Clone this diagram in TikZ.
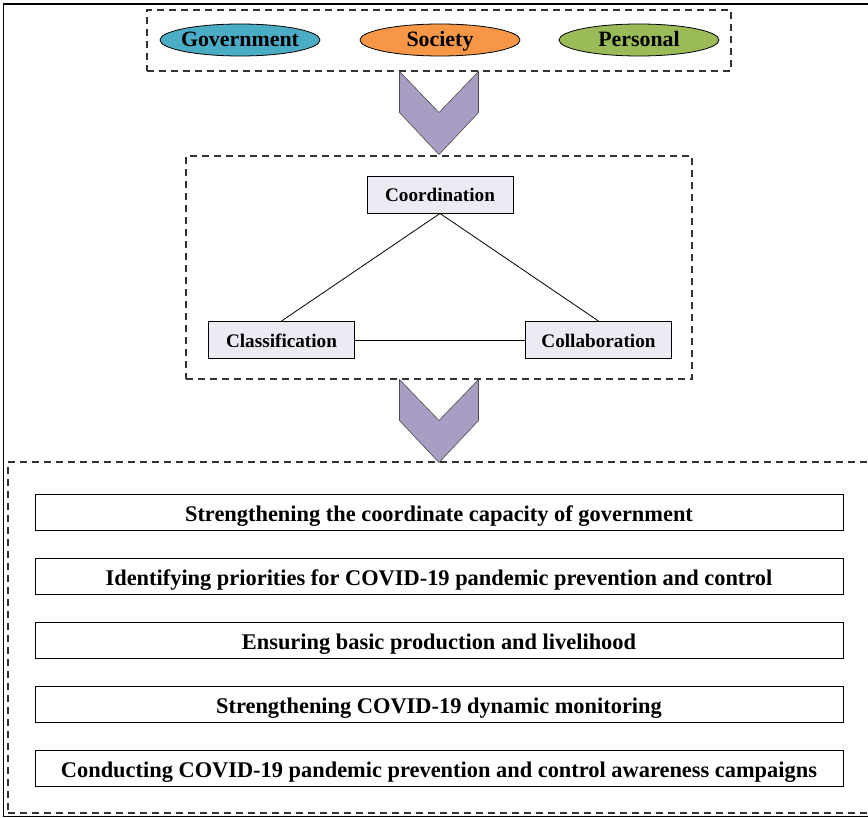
\documentclass[tikz,border=0pt]{standalone}
\usepackage{fontspec}
\setmainfont{Liberation Serif}
\usetikzlibrary{shapes.geometric}
\definecolor{govblue}{RGB}{75,172,198}
\definecolor{socorange}{RGB}{247,150,70}
\definecolor{pergreen}{RGB}{155,187,89}
\definecolor{chevpurple}{RGB}{169,157,196}
\definecolor{boxlilac}{RGB}{238,234,243}
\tikzset{
    dashbox/.style={draw=black!80,line width=1.1pt,dash pattern=on 7pt off 5pt,rectangle,inner sep=0pt},
    oval/.style={ellipse,draw=black,line width=0.8pt,minimum width=160pt,minimum height=32pt,inner sep=-3pt,text height=14pt,text depth=0pt,font=\fontsize{21.9}{22}\selectfont\bfseries},
    block/.style={rectangle,draw=black,line width=0.9pt,fill=boxlilac,minimum width=146pt,minimum height=37pt,inner sep=0pt,text height=15pt,text depth=0pt,font=\fontsize{19.2}{20}\selectfont\bfseries},
    itembox/.style={rectangle,draw=black,line width=0.9pt,minimum width=808pt,minimum height=36pt,inner sep=0pt,text height=19pt,text depth=0pt,font=\fontsize{22.4}{23}\selectfont\bfseries},
    chevron/.style={draw=black!70,line width=0.6pt,fill=chevpurple},
    link/.style={draw=black,line width=0.8pt},
}
\begin{document}
\begin{tikzpicture}[x=1pt,y=-1pt]
    \useasboundingbox (0,0) rectangle (868,818);
    % outer frame
    \draw[line width=1.7pt] (880,4) -- (3.5,4) -- (3.5,816.5) -- (880,816.5);

    % actors
    \node[dashbox,minimum width=584pt,minimum height=61pt] (actors) at (439,40.5) {};
    \node[oval,fill=govblue] (gov) at (240,40) {Government};
    \node[oval,fill=socorange] (soc) at (440,40) {Society};
    \node[oval,fill=pergreen] (per) at (639,40) {Personal};

    \draw[chevron] (actors.south) ++(-39.5,0) -- ++(39.5,41) -- ++(39.5,-41) -- ++(0,41) -- ++(-39.5,42) -- ++(-39.5,-42) -- cycle;

    % mechanism
    \node[dashbox,minimum width=506pt,minimum height=223pt] (core) at (439,267.5) {};
    \node[block] (coord) at (440,194.5) {Coordination};
    \node[block] (class) at (281.5,340) {Classification};
    \node[block] (collab) at (598.5,340) {Collaboration};
    \draw[link] (coord.south) -- (class.north);
    \draw[link] (coord.south) -- (collab.north);
    \draw[link] (class.east) -- (collab.west);

    \draw[chevron] (core.south) ++(-39.5,0) -- ++(39.5,41) -- ++(39.5,-41) -- ++(0,41) -- ++(-39.5,42) -- ++(-39.5,-42) -- cycle;

    % measures
    \node[dashbox,minimum width=872pt,minimum height=351pt] (measures) at (444,637.5) {};
    \foreach \txt [count=\i] in {Strengthening the coordinate capacity of government,
        Identifying priorities for COVID-19 pandemic prevention and control,
        Ensuring basic production and livelihood,
        Strengthening COVID-19 dynamic monitoring,
        Conducting COVID-19 pandemic prevention and control awareness campaigns}
        \node[itembox] (m\i) at (439,{448+64*\i}) {\txt};
\end{tikzpicture}
\end{document}
